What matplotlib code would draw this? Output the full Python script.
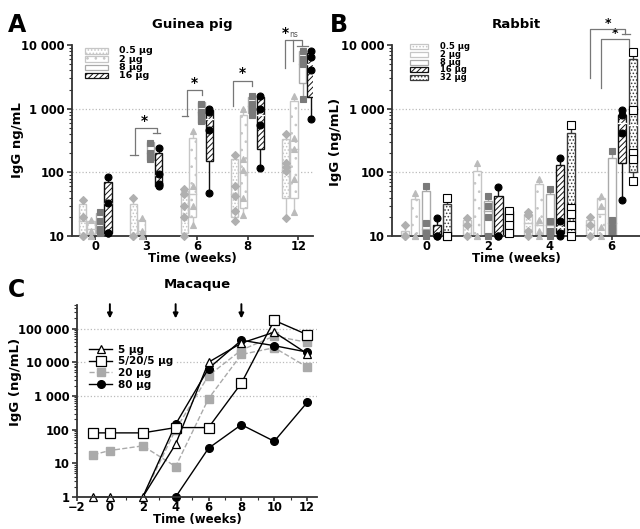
import numpy as np
import matplotlib
matplotlib.use('Agg')
from matplotlib import rcParams

rcParams['font.family'] = ['DejaVu Sans']
rcParams['font.weight'] = 'bold'
rcParams['axes.labelweight'] = 'bold'
rcParams['hatch.linewidth'] = 0.7

import matplotlib.pyplot as plt
from matplotlib.patches import Rectangle
from matplotlib.lines import Line2D
from matplotlib.ticker import FuncFormatter, NullFormatter, MultipleLocator

# ---------------- A: guinea pig ----------------
gp_weeks = ['0', '3', '6', '8', '12']
gp_doses = ['0.5 µg', '2 µg', '8 µg', '16 µg']

gp_pts_05 = [[37, 20, 10, 10], [40, 10, 10], [55, 45, 30, 20, 10], [190, 60, 42, 25, 17], [400, 140, 120, 105, 19]]
gp_q1_05 = [10, 10, 11, 20, 40]
gp_med_05 = [17, 10, 30, 45, 110]
gp_q3_05 = [32, 32, 50, 160, 330]

gp_pts_2 = [[18, 12, 10, 10], [19, 12, 10, 10], [450, 60, 30, 15], [1000, 160, 110, 40, 21], [1600, 350, 230, 80, 24]]
gp_q1_2 = [10, 10, 20, 28, 40]
gp_med_2 = [13, 12, 45, 100, 230]
gp_q3_2 = [17, 18, 350, 800, 1300]

gp_pts_8 = [[24, 17, 13, 11], [290, 200, 160], [1200, 900, 800, 650], [1600, 1200, 1000, 800], [8000, 6000, 5000, 1400]]
gp_q1_8 = [11, 155, 600, 850, 2500]
gp_med_8 = [16, 200, 900, 1100, 5000]
gp_q3_8 = [23, 300, 1250, 1500, 8000]

gp_pts_16 = [[85, 33, 11, 11], [240, 95, 65, 62], [1000, 900, 470, 48], [1600, 1000, 550, 115], [8000, 6500, 4000, 700]]
gp_q1_16 = [11, 62, 150, 230, 1500]
gp_med_16 = [33, 90, 700, 800, 5000]
gp_q3_16 = [70, 200, 950, 1500, 7500]

# ---------------- B: rabbit ----------------
rb_weeks = ['0', '2', '4', '6']
rb_doses = ['0.5 µg', '2 µg', '8 µg', '16 µg', '32 µg']

rb_pts_05 = [[15, 10, 10], [19, 15, 10], [24, 21, 12, 10], [20, 15, 10]]
rb_q1_05 = [10, 10, 10, 10]
rb_med_05 = [10, 15, 16, 15]
rb_q3_05 = [12, 18, 22, 18]

rb_pts_2 = [[48, 10, 10], [138, 10, 10], [80, 18, 12, 10], [42, 30, 14, 10]]
rb_q1_2 = [10, 10, 10, 10]
rb_med_2 = [10, 10, 15, 22]
rb_q3_2 = [38, 105, 65, 40]

rb_pts_8 = [[62, 16, 11, 10], [42, 30, 20, 10], [55, 17, 12, 10], [220, 18, 14, 12]]
rb_q1_8 = [10, 10, 10, 10]
rb_med_8 = [13, 25, 15, 16]
rb_q3_8 = [50, 35, 45, 170]

rb_pts_16 = [[19, 10, 10], [58, 10, 10], [170, 17, 11, 10], [950, 800, 420, 37]]
rb_q1_16 = [10, 10, 11, 140]
rb_med_16 = [10, 10, 14, 600]
rb_q3_16 = [15, 43, 130, 800]

rb_pts_32 = [[40, 10, 10], [25, 19, 15, 11], [550, 28, 22, 15, 10], [7800, 950, 200, 160, 72]]
rb_q1_32 = [10, 10, 11, 100]
rb_med_32 = [10, 17, 22, 550]
rb_q3_32 = [32, 25, 420, 6000]

# ---------------- C: macaque (one line per animal) ----------------
mq_5_x = [-1, 0, 2, 4, 6, 8, 10, 12]
mq_5_y = [1, 1, 1, 37, 10000, 37000, 78000, 18000]
mq_5205_x = [-1, 0, 2, 4, 6, 8, 10, 12]
mq_5205_y = [80, 80, 80, 115, 115, 2400, 175000, 66000]
mq_20a_x = [-1, 0, 2, 4, 6, 8, 10, 12]
mq_20a_y = [18, 24, 33, 8, 830, 17000, 27000, 7200]
mq_20b_x = [2, 4, 6, 8, 10, 12]
mq_20b_y = [1, 100, 4000, 23000, 60000, 39000]
mq_80a_x = [4, 6, 8, 10, 12]
mq_80a_y = [1, 28, 140, 45, 640]
mq_80b_x = [2, 4, 6, 8, 10, 12]
mq_80b_y = [1, 145, 6500, 45000, 31000, 20000]
mq_boosts = [0, 4, 8]

# box styles
STY = {
    '0.5': dict(ec='#c6c6c6', hatch='.....', mk='D', mc='#b0b0b0', mec='#b0b0b0', ml='#c6c6c6', ms=4.5),
    '2': dict(ec='#c6c6c6', hatch='..', mk='^', mc='#bbbbbb', mec='#bbbbbb', ml='#c6c6c6', ms=5),
    '8': dict(ec='#aaaaaa', hatch=None, mk='s', mc='#7a7a7a', mec='#7a7a7a', ml='#aaaaaa', ms=5),
    '16': dict(ec='#111111', hatch='//////', mk='o', mc='black', mec='black', ml='white', ms=5),
    '32': dict(ec='#3a3a3a', hatch='.....', mk='s', mc='white', mec='black', ml='white', ms=5.5),
}
GRAY = '#777777'
TICK_FS = 8.3


def fmt_thousands(v, pos):
    return '{:,}'.format(int(round(v))).replace(',', ' ')


def draw_boxes(ax, xs, pts, q1, med, q3, st, w):
    for x, p, a, m, b in zip(xs, pts, q1, med, q3):
        ax.bar(x, b - a, bottom=a, width=w, facecolor='white', edgecolor=st['ec'],
               hatch=st['hatch'], lw=1.0, zorder=2)
        if max(p) > b:
            ax.plot([x, x], [b, max(p)], color=st['ec'], lw=1.0, zorder=1.5)
        if min(p) < a:
            ax.plot([x, x], [min(p), a], color=st['ec'], lw=1.0, zorder=1.5)
        ax.plot([x - w / 2, x + w / 2], [m, m], color=st['ml'], lw=1.0, zorder=3)
        ax.plot([x] * len(p), p, ls='none', marker=st['mk'], ms=st['ms'], mfc=st['mc'],
                mec=st['mec'], mew=0.8, zorder=4, clip_on=False)


def style_axes(ax):
    for s in ['top', 'right']:
        ax.spines[s].set_visible(False)
    for s in ['left', 'bottom']:
        ax.spines[s].set_color('#333333')
        ax.spines[s].set_linewidth(1.3)
    ax.tick_params(which='major', direction='out', length=3.5, width=1.2, colors='#333333',
                   labelsize=TICK_FS, labelcolor='black')
    ax.tick_params(axis='y', which='major', pad=2)
    ax.tick_params(axis='x', which='major', length=3, pad=0)
    ax.tick_params(which='minor', direction='out', length=2, width=0.8, colors='#333333')


def bracket(ax, pts, color=GRAY):
    xs, ys = zip(*pts)
    ax.plot(xs, ys, color=color, lw=0.9, clip_on=False, zorder=5)


def box_legend(ax, rows, x0, y0, dy, hw, hh, tx, fs):
    for i, (lab, st) in enumerate(rows):
        y = y0 - i * dy
        ax.add_patch(Rectangle((x0, y - hh / 2), hw, hh, transform=ax.transAxes, facecolor='white',
                               edgecolor=st['ec'], hatch=st['hatch'], lw=0.9, clip_on=False))
        ax.text(tx, y, lab, transform=ax.transAxes, fontsize=fs, va='center', ha='left')


fig = plt.figure(figsize=(6.4, 5.29), dpi=100)
W, H = 640.0, 529.0


def add_ax(l, r, t, b):
    return fig.add_axes([l / W, 1 - b / H, (r - l) / W, (b - t) / H])


# ---------- panel A ----------
axA = add_ax(72, 313, 45, 236)
offA = [-0.25, -0.085, 0.085, 0.25]
wA = 0.14
gx = np.arange(len(gp_weeks))
draw_boxes(axA, gx + offA[0], gp_pts_05, gp_q1_05, gp_med_05, gp_q3_05, STY['0.5'], wA)
draw_boxes(axA, gx + offA[1], gp_pts_2, gp_q1_2, gp_med_2, gp_q3_2, STY['2'], wA)
draw_boxes(axA, gx + offA[2], gp_pts_8, gp_q1_8, gp_med_8, gp_q3_8, STY['8'], wA)
draw_boxes(axA, gx + offA[3], gp_pts_16, gp_q1_16, gp_med_16, gp_q3_16, STY['16'], wA)
axA.set_yscale('log')
axA.set_ylim(10, 10000)
axA.set_xlim(-0.46, 4.29)
axA.set_xticks(gx)
axA.set_xticklabels(gp_weeks)
axA.set_yticks([10, 100, 1000, 10000])
axA.yaxis.set_major_formatter(FuncFormatter(fmt_thousands))
axA.yaxis.set_minor_formatter(NullFormatter())
for v in [100, 1000]:
    axA.axhline(v, color='#bbbbbb', ls=':', lw=0.9, zorder=0)
style_axes(axA)
axA.set_ylabel('IgG ng/mL', fontsize=9.5)
axA.yaxis.set_label_coords(-0.2, 0.5)
axA.set_xlabel('Time (weeks)', fontsize=8.5, labelpad=-0.5)
axA.set_title('Guinea pig', fontsize=9.5, fontweight='bold', pad=12)

# significance brackets (A)
bracket(axA, [(1 - 0.32, 190), (1 - 0.16, 190)])
bracket(axA, [(1 - 0.22, 190), (1 - 0.22, 490), (1 + 0.21, 490), (1 + 0.21, 410)])
bracket(axA, [(1 + 0.14, 410), (1 + 0.27, 410)])
axA.text(1 - 0.03, 500, '*', ha='center', va='bottom', fontsize=10)
bracket(axA, [(2 - 0.3, 760), (2 - 0.17, 760)])
bracket(axA, [(2 - 0.2, 760), (2 - 0.2, 1950), (2 + 0.1, 1950), (2 + 0.1, 1620)])
axA.text(2 - 0.05, 2000, '*', ha='center', va='bottom', fontsize=10)
bracket(axA, [(3 - 0.28, 1100), (3 - 0.28, 2750), (3 + 0.09, 2750), (3 + 0.09, 2250)])
axA.text(3 - 0.1, 2800, '*', ha='center', va='bottom', fontsize=10)
bracket(axA, [(4 - 0.26, 4300), (4 - 0.26, 11800), (4 + 0.07, 11800), (4 + 0.07, 9800)])
bracket(axA, [(4 - 0.1, 11800), (4 - 0.1, 5700)])
bracket(axA, [(4 - 0.03, 9800), (4 + 0.2, 9800)])
axA.text(4 - 0.26, 12000, '*', ha='center', va='bottom', fontsize=10)
axA.text(4 - 0.18, 12600, 'ns', ha='left', va='bottom', fontsize=5.5, fontweight='normal', color='#555555')

box_legend(axA, list(zip(gp_doses, [STY['0.5'], STY['2'], STY['8'], STY['16']])),
           0.054, 0.969, 0.043, 0.094, 0.028, 0.196, 6.8)

# ---------- panel B ----------
axB = add_ax(392, 640, 45, 236)
offB = [-0.344, -0.172, 0.0, 0.172, 0.344]
wB = 0.13
rx = np.arange(len(rb_weeks))
draw_boxes(axB, rx + offB[0], rb_pts_05, rb_q1_05, rb_med_05, rb_q3_05, STY['0.5'], wB)
draw_boxes(axB, rx + offB[1], rb_pts_2, rb_q1_2, rb_med_2, rb_q3_2, STY['2'], wB)
draw_boxes(axB, rx + offB[2], rb_pts_8, rb_q1_8, rb_med_8, rb_q3_8, STY['8'], wB)
draw_boxes(axB, rx + offB[3], rb_pts_16, rb_q1_16, rb_med_16, rb_q3_16, STY['16'], wB)
draw_boxes(axB, rx + offB[4], rb_pts_32, rb_q1_32, rb_med_32, rb_q3_32, STY['32'], wB)
axB.set_yscale('log')
axB.set_ylim(10, 10000)
axB.set_xlim(-0.55, 3.46)
axB.set_xticks(rx)
axB.set_xticklabels(rb_weeks)
axB.set_yticks([10, 100, 1000, 10000])
axB.yaxis.set_major_formatter(FuncFormatter(fmt_thousands))
axB.yaxis.set_minor_formatter(NullFormatter())
for v in [100, 1000]:
    axB.axhline(v, color='#bbbbbb', ls=':', lw=0.9, zorder=0)
style_axes(axB)
axB.set_ylabel('IgG (ng/mL)', fontsize=9.5)
axB.yaxis.set_label_coords(-0.203, 0.49)
axB.set_xlabel('Time (weeks)', fontsize=8.5, labelpad=-0.5)
axB.set_title('Rabbit', fontsize=9.5, fontweight='bold', pad=12)

bracket(axB, [(3 - 0.356, 3000), (3 - 0.356, 17800), (3 + 0.22, 17800), (3 + 0.22, 14800)])
bracket(axB, [(3 + 0.17, 14800), (3 + 0.30, 14800)])
bracket(axB, [(3 - 0.17, 2100), (3 - 0.17, 12400), (3 + 0.275, 12400), (3 + 0.275, 9400)])
axB.text(3 - 0.05, 17500, '*', ha='center', va='bottom', fontsize=9)
axB.text(3 + 0.06, 12200, '*', ha='center', va='bottom', fontsize=9)

box_legend(axB, list(zip(rb_doses, [STY['0.5'], STY['2'], STY['8'], STY['16'], STY['32']])),
           0.073, 0.99, 0.04, 0.074, 0.026, 0.194, 6.0)

# ---------- panel C ----------
axC = add_ax(77, 317, 305, 497)
for v in [1000, 10000, 100000]:
    axC.axhline(v, color='#bbbbbb', ls=':', lw=0.9, zorder=0)
kw_tri = dict(color='black', lw=1.0, marker='^', ms=6, mfc='white', mec='black', mew=0.9, clip_on=False)
kw_sq = dict(color='black', lw=1.0, marker='s', ms=6.5, mfc='white', mec='black', mew=0.9, clip_on=False)
kw_gsq = dict(color='#aaaaaa', lw=1.0, ls='--', marker='s', ms=5.5, mfc='#aaaaaa', mec='#aaaaaa', clip_on=False)
kw_cir = dict(color='black', lw=1.0, marker='o', ms=5.5, mfc='black', mec='black', clip_on=False)
axC.plot(mq_20a_x, mq_20a_y, **kw_gsq)
axC.plot(mq_20b_x[1:], mq_20b_y[1:], **kw_gsq)
axC.plot(mq_20b_x[:2], mq_20b_y[:2], color='#aaaaaa', lw=1.0, ls='--')
axC.plot(mq_80a_x, mq_80a_y, **kw_cir)
axC.plot(mq_80b_x[1:], mq_80b_y[1:], **kw_cir)
axC.plot(mq_80b_x[:2], mq_80b_y[:2], color='black', lw=1.0)
axC.plot(mq_5205_x, mq_5205_y, **kw_sq)
axC.plot(mq_5_x, mq_5_y, **kw_tri)
for b in mq_boosts:
    axC.annotate('', xy=(b, 2.0e5), xytext=(b, 5.3e5), annotation_clip=False,
                 arrowprops=dict(arrowstyle='-|>', color='black', lw=1.4, mutation_scale=7,
                                 shrinkA=0, shrinkB=0))
axC.set_yscale('log')
axC.set_ylim(1, 5e5)
axC.set_xlim(-2, 12.6)
axC.set_xticks(np.arange(-2, 13, 2))
axC.xaxis.set_minor_locator(MultipleLocator(1))
axC.set_yticks([1, 10, 100, 1000, 10000, 100000])
axC.yaxis.set_major_formatter(FuncFormatter(fmt_thousands))
axC.yaxis.set_minor_formatter(NullFormatter())
style_axes(axC)
axC.set_ylabel('IgG (ng/mL)', fontsize=9.5)
axC.yaxis.set_label_coords(-0.23, 0.6)
axC.set_xlabel('Time (weeks)', fontsize=8.5, labelpad=-0.5)
axC.set_title('Macaque', fontsize=9.5, fontweight='bold', pad=12)

leg_h = [Line2D([], [], **{k: v for k, v in kw_tri.items() if k != 'clip_on'}),
         Line2D([], [], **{k: v for k, v in kw_sq.items() if k != 'clip_on'}),
         Line2D([], [], **{k: v for k, v in kw_gsq.items() if k != 'clip_on'}),
         Line2D([], [], **{k: v for k, v in kw_cir.items() if k != 'clip_on'})]
leg = axC.legend(leg_h, ['5 µg', '5/20/5 µg', '20 µg', '80 µg'], loc='upper left',
                 bbox_to_anchor=(0.02, 0.83), fontsize=7.5, handlelength=2.2, labelspacing=0.15,
                 borderpad=0.2, handletextpad=0.6, frameon=True, fancybox=False)
leg.get_frame().set_facecolor('white')
leg.get_frame().set_edgecolor('none')
leg.get_frame().set_alpha(1)

# panel letters
fig.text(8 / W, 1 - 25 / H, 'A', fontsize=17, fontweight='bold', va='center', ha='left')
fig.text(330 / W, 1 - 25 / H, 'B', fontsize=17, fontweight='bold', va='center', ha='left')
fig.text(8 / W, 1 - 290 / H, 'C', fontsize=17, fontweight='bold', va='center', ha='left')

fig.savefig('out.png', dpi=100)
